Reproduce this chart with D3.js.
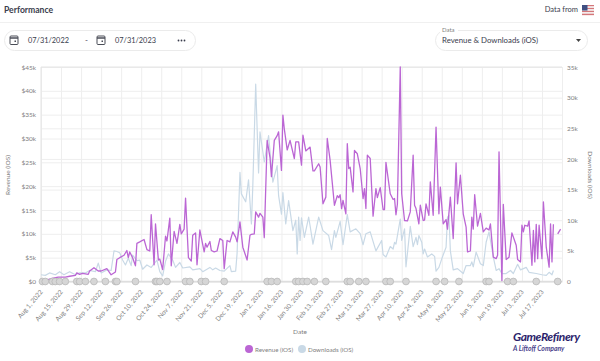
<!DOCTYPE html>
<html>
<head>
<meta charset="utf-8">
<script src="https://cdn.jsdelivr.net/npm/d3@7"></script>
<style>
	html, body { margin: 0; padding: 0; background: #fff; }
	svg { display: block; font-family: Lato, "Open Sans", sans-serif; }
</style>
</head>
<body>
<div id="graph"></div>
<script>
// day = days after Aug 1, 2022. null value = gap in the line
var revenueDays = [4,7,12,17,20,24,25,27,29,33,34,37,40,42,46,49,52,53,55,58,60,61,62,64,66,67,69,72,74,76,77,79,80,82,83,85,87,88,90,91,93,95,97,98,100,101,103,105,106,108,109,111,114,115,116,118,119,121,123,125,127,128,130,132,134,136,137,139,141,144,146,147,149,150,152,153,155,156,158,160,161,163,165,166,168,169,170,172,174,177,178,180,182,183,185,188,190,191,194,195,197,199,200,202,205,207,208,209,210,211,213,214,215,216,218,219,221,223,225,226,227,228,230,232,234,235,237,239,240,241,244,246,247,248,249,251,252,254,256,258,260,261,262,264,265,267,268,269,271,272,274,276,278,279,281,283,284,286,288,290,291,293,295,297,298,300,301,302,303,305,307,309,311,313,314,316,318,319,320,322,323,325,327,329,332,333,335,336,337,338,340,341,343,344,345,346,347,348,350,351,353,355,356,357,358,359,361,363];
var revenueValues = [0.3,0.6,0.9,0.9,1.1,1.3,1.8,1.5,1.7,1.5,2.2,2.9,2.2,2.2,2.7,1.4,2,4.6,5,5.5,6.5,5,6.2,5,3.3,8,8.3,8.8,6.7,6.4,14,3.5,12.1,4.5,4.7,2.5,9.5,8.5,13.3,3.3,10.5,8,12,10,11,17.5,5,4.3,9.7,10.2,3.5,10.8,6.2,8,7.2,8.4,6.5,6.2,6.4,9,8.6,2.7,8.6,8.3,10.4,9.3,8.3,12.5,7.2,4.5,9.7,9.9,10,14.6,13.5,14.3,13.5,9.2,29.6,26,22,29.6,30.6,31.4,23.3,34.9,32,27.6,29.6,25.8,29.3,29.3,24.4,30.7,27.4,28.2,23.2,23.2,24.7,24,16.3,17.7,30,25.4,16,18,17.6,18.2,15.3,17,14.2,28.9,23.7,24,18.8,27.5,26.8,23.7,17.4,19.5,15.3,26.5,25.8,13.7,19.5,17.6,19.7,15.1,15.1,25,18.4,17.2,17.4,14,16.2,45,18.4,12.8,12.7,14.6,26.5,16,15.3,12.1,16,12.8,12.9,16.3,13.9,20.9,13.9,32.4,14.2,19.8,12.1,13,11,17.7,9,24.9,16.3,22.3,14.2,11.4,6.2,6.4,13.5,11,18.2,11.6,14.3,10.4,11.2,10.8,12.1,5.1,4.8,5.5,27.2,0.2,16.2,4.6,5.1,10.2,7.6,4.6,4.1,11.8,10.4,11.8,11.6,12.7,3.4,10.7,4.1,12,4.8,11.8,4.8,16.7,7.2,3,12.1,4.1,12,null,10,11];

var downloadDays = [0,3,6,10,13,16,20,24,27,31,34,38,40,42,46,49,51,53,55,57,59,61,63,64,67,69,71,74,77,81,83,85,87,89,92,94,97,99,104,106,111,113,118,120,122,125,128,132,133,136,137,139,140,143,145,147,148,150,152,153,156,159,162,165,166,168,169,171,173,176,178,179,180,181,182,184,187,188,190,194,197,201,203,205,206,209,211,214,216,220,223,225,227,230,234,238,239,241,244,246,247,248,251,252,254,255,258,260,262,263,264,266,267,268,270,273,275,276,278,280,283,284,285,286,288,291,295,297,300,301,302,304,307,309,311,313,316,318,320,322,325,328,330,333,335,339,341,346,350,353,355,357,358,360,362];
var downloadValues = [1.1,1,1.4,1.1,1.6,1.1,1.6,1.1,1.4,1.4,1.8,1.6,3,1.4,1.9,1.8,5,4.9,4.7,3.5,2.7,3.8,2.6,4.3,3.4,3.5,2,2.7,2.3,3.5,1.6,0.9,3.3,4.5,3.5,2.3,3.1,2.2,2.4,1.9,2.1,1.6,2.3,1.9,2.2,1.8,1.7,2.6,1.6,1.7,4.6,17.8,14.3,13,16.6,9.4,15.7,32.2,17.7,24.4,19.5,23.8,16.2,18.9,14,11,14.5,9.4,13.2,8.3,10,4.5,10.5,6.7,10.4,7.2,10.5,9.1,6.1,10.5,8.3,7.5,5.2,8.3,7.2,9.8,6,10.9,8.1,8.6,7.8,6,7.8,8.1,5,6.7,4.4,4,5.7,5.3,6.4,6.1,10.2,6.7,8.6,2.4,9,5.7,7.2,6,7.5,6.4,4.5,5.3,4,4.5,4.1,1.7,2.3,3.7,5.6,10.5,10.8,5,1.9,2.1,1.3,2.6,2.6,3.2,2.4,4.8,2.9,2.6,6.4,8.1,4,1.8,2.1,1.3,1.3,1.8,1.3,2.8,1.9,2.3,1.5,1.3,1.1,1,1.5,1.1,1.8,null,2.2];

var eventDays = [1,3,8,10,13,17,25,27,31,37,45,52,53,66,80,81,83,88,101,104,112,115,128,158,161,165,178,180,183,186,191,199,214,216,222,227,241,244,255,276,282,292,311,313,326,330,346,361];

var revenueTicks = [0,5,10,15,20,25,30,35,40,45];
var downloadTicks = [0,5,10,15,20,25,30,35];
var tickDayStep = 14;
var startDate = new Date(Date.UTC(2022, 7, 1));
var endDate = new Date(Date.UTC(2023, 6, 31));

var revenueColor = "#bb66d4";
var downloadColor = "#c9d9e6";
var gridColor = "#eeeeee";
var textColor = "#808080";
var darkText = "#3a3d4d";

function toDate(d){ return d3.utcDay.offset(startDate, d); }

var svg = d3.select("#graph").append("svg")
	.attr("width", 600)
	.attr("height", 361);

var left = 41, right = 562, top_ = 67, bottom = 281.5;

var x = d3.scaleUtc().domain([startDate, endDate]).range([left, right]);
var yRev = d3.scaleLinear().domain([0, 45]).range([bottom, top_]);
var yDown = d3.scaleLinear().domain([0, 35]).range([bottom, top_]);

// header
svg.append("text").attr("x", 4).attr("y", 12.5)
	.attr("font-size", 8.6).attr("font-weight", 700).attr("fill", darkText).text("Performance");
svg.append("text").attr("x", 578).attr("y", 12).attr("text-anchor", "end")
	.attr("font-size", 7.5).attr("fill", darkText).text("Data from");
svg.append("line").attr("x1", 0).attr("x2", 600).attr("y1", 22.5).attr("y2", 22.5)
	.attr("stroke", "#f0f0f0");

// flag
var flag = svg.append("g").attr("transform", "translate(582,5)");
flag.selectAll("rect").data(d3.range(7)).enter().append("rect")
	.attr("y", function(d){ return d * 1.45; })
	.attr("width", 12).attr("height", 1.45)
	.attr("fill", function(d){ return d % 2 ? "#f4f0f0" : "#d4777a"; });
flag.append("rect").attr("width", 5.5).attr("height", 5.5).attr("fill", "#3f4f82");

// date picker
svg.append("rect").attr("x", 4.5).attr("y", 30.5).attr("width", 191).attr("height", 20).attr("rx", 10)
	.attr("fill", "#fff").attr("stroke", "#ebebeb");
[10, 97].forEach(function(cx){
	var g = svg.append("g").attr("transform", "translate(" + cx + ",35)").attr("fill", "none").attr("stroke", "#4a4d57");
	g.append("rect").attr("y", 1).attr("width", 8).attr("height", 8.5).attr("rx", 1).attr("stroke-width", 1);
	g.append("line").attr("x1", 0).attr("x2", 8).attr("y1", 3).attr("y2", 3).attr("stroke-width", 1.5);
	g.append("rect").attr("x", 4.5).attr("y", 5.5).attr("width", 1.5).attr("height", 1.5).attr("fill", "#4a4d57").attr("stroke", "none");
});
svg.append("text").attr("x", 28).attr("y", 43).attr("font-size", 7.4).attr("fill", darkText).text("07/31/2022");
svg.append("text").attr("x", 85).attr("y", 43).attr("font-size", 8).attr("fill", darkText).text("-");
svg.append("text").attr("x", 115).attr("y", 43).attr("font-size", 7.4).attr("fill", darkText).text("07/31/2023");
svg.selectAll("circle.more").data([178.5, 181.5, 184.5]).enter().append("circle")
	.attr("class", "more")
	.attr("cx", function(d){ return d; }).attr("cy", 40.5).attr("r", 0.9).attr("fill", darkText);

// data select
svg.append("rect").attr("x", 435.5).attr("y", 30.5).attr("width", 152).attr("height", 20).attr("rx", 10)
	.attr("fill", "#fff").attr("stroke", "#ebebeb");
svg.append("rect").attr("x", 440).attr("y", 27).attr("width", 18).attr("height", 6).attr("fill", "#fff");
svg.append("text").attr("x", 442).attr("y", 32).attr("font-size", 6).attr("fill", textColor).text("Data");
svg.append("text").attr("x", 442).attr("y", 43).attr("font-size", 7.8).attr("fill", darkText).text("Revenue & Downloads (iOS)");
svg.append("path").attr("d", d3.line()([[576, 39], [581, 39], [578.5, 42]])).attr("fill", "#444");

// axes with grid
var xTicks = d3.range(0, 351, tickDayStep).map(toDate);

var xAxis = d3.axisBottom(x)
	.tickValues(xTicks)
	.tickFormat(d3.utcFormat("%b %-d, %Y"))
	.tickSize(-(bottom - top_))
	.tickPadding(5);
var yAxisLeft = d3.axisLeft(yRev)
	.tickValues(revenueTicks)
	.tickFormat(function(d){ return d === 0 ? "$0" : "$" + d + "k"; })
	.tickSize(-(right - left))
	.tickPadding(5);
var yAxisRight = d3.axisRight(yDown)
	.tickValues(downloadTicks)
	.tickFormat(function(d){ return d === 0 ? "0" : d + "k"; })
	.tickSize(-(right - left))
	.tickPadding(5);

var gx = svg.append("g").attr("transform", "translate(0," + bottom + ")").call(xAxis);
gx.selectAll("text")
	.attr("text-anchor", "end")
	.attr("transform", "rotate(-50)")
	.attr("x", -7).attr("y", 6).attr("dy", "0.32em");
var gl = svg.append("g").attr("transform", "translate(" + left + ",0)").call(yAxisLeft);
var gr = svg.append("g").attr("transform", "translate(" + right + ",0)").call(yAxisRight);

[gx, gl, gr].forEach(function(g){
	g.selectAll(".domain").attr("stroke", gridColor);
	g.selectAll(".tick line").attr("stroke", gridColor);
	g.selectAll("text").attr("font-size", 6.5).attr("fill", textColor)
		.attr("font-family", "Lato, 'Open Sans', sans-serif");
});
svg.append("line").attr("x1", left).attr("x2", right).attr("y1", bottom).attr("y2", bottom)
	.attr("stroke", "#dedede").attr("stroke-width", 1.5);
svg.append("line").attr("x1", left).attr("x2", right).attr("y1", top_).attr("y2", top_)
	.attr("stroke", "#e4e4e4");
svg.append("line").attr("x1", left).attr("x2", left).attr("y1", top_).attr("y2", bottom)
	.attr("stroke", "#e4e4e4");

// lines
function seriesLine(scale){
	return d3.line()
		.defined(function(d){ return d[1] !== null; })
		.x(function(d){ return x(toDate(d[0])); })
		.y(function(d){ return scale(d[1]); });
}

svg.append("path")
	.datum(d3.zip(downloadDays, downloadValues))
	.attr("fill", "none").attr("stroke", downloadColor).attr("stroke-width", 1.2)
	.attr("stroke-linejoin", "round")
	.attr("d", seriesLine(yDown));
svg.append("path")
	.datum(d3.zip(revenueDays, revenueValues))
	.attr("fill", "none").attr("stroke", revenueColor).attr("stroke-width", 1.3)
	.attr("stroke-linejoin", "round")
	.attr("d", seriesLine(yRev));

// event markers
svg.selectAll("circle.event").data(eventDays).enter().append("circle")
	.attr("class", "event")
	.attr("cx", function(d){ return x(toDate(d)); })
	.attr("cy", bottom)
	.attr("r", 3.4)
	.attr("fill", "#d6d6d6")
	.attr("stroke", "#b5b5b5")
	.attr("stroke-width", 0.7);

// axis titles
svg.append("text").attr("transform", "translate(10,175) rotate(-90)").attr("text-anchor", "middle")
	.attr("font-size", 6.5).attr("fill", textColor).text("Revenue (iOS)");
svg.append("text").attr("transform", "translate(588,175) rotate(90)").attr("text-anchor", "middle")
	.attr("font-size", 6.5).attr("fill", textColor).text("Downloads (iOS)");
svg.append("text").attr("x", 300).attr("y", 334).attr("text-anchor", "middle")
	.attr("font-size", 6.5).attr("fill", textColor).text("Date");

// legend
var legend = [["Revenue (iOS)", revenueColor, 249], ["Downloads (iOS)", downloadColor, 302]];
legend.forEach(function(l){
	svg.append("circle").attr("cx", l[2]).attr("cy", 349).attr("r", 4).attr("fill", l[1]);
	svg.append("text").attr("x", l[2] + 6).attr("y", 351.5).attr("font-size", 6.2).attr("fill", textColor).text(l[0]);
});

// logo
svg.append("text").attr("x", 513).attr("y", 341).attr("font-size", 12).attr("font-weight", 700)
	.attr("font-style", "italic").attr("letter-spacing", -0.4).attr("fill", "#2b1e6b").text("GameRefinery");
svg.append("text").attr("x", 513).attr("y", 351).attr("font-size", 6.8).attr("font-weight", 700)
	.attr("font-style", "italic").attr("fill", "#4a3f8c").text("A Liftoff Company");
</script>
</body>
</html>
